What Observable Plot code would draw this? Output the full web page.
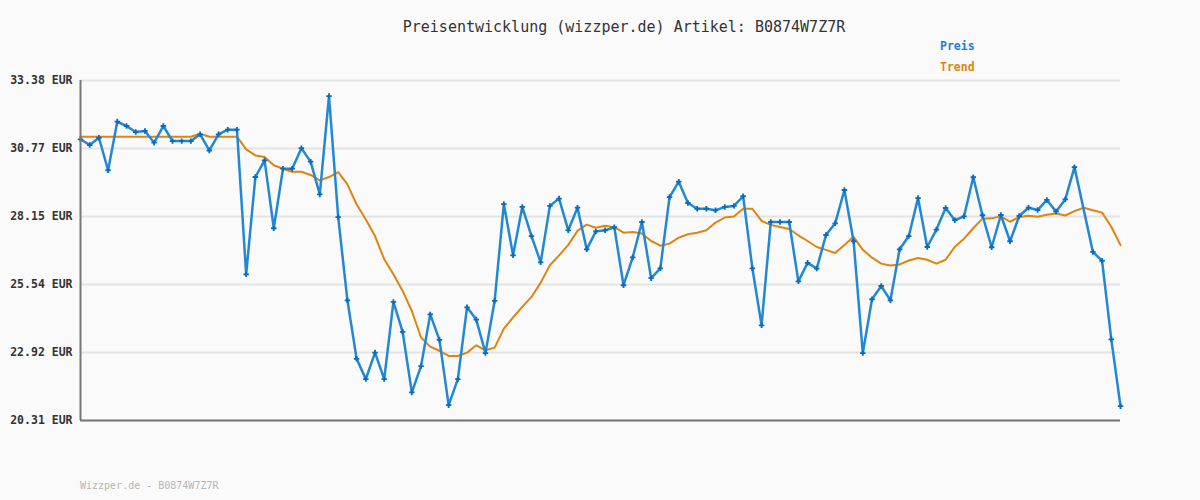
<!DOCTYPE html>
<html>
<head>
<meta charset="utf-8">
<script src="https://cdn.jsdelivr.net/npm/d3@7"></script>
<script src="https://cdn.jsdelivr.net/npm/@observablehq/plot@0.6"></script>
<style>
  html, body { margin: 0; padding: 0; background: #fafafa; }
  #wrap { position: relative; width: 1200px; height: 500px; background: #fafafa; font-family: "DejaVu Sans Mono", monospace; }
  #title { position: absolute; left: 0; width: 1248px; top: 18px; text-align: center; font-size: 15px; color: #333; }
  .leg { position: absolute; left: 940px; font-size: 11.5px; font-weight: bold; }
  #footer { position: absolute; left: 80px; top: 480px; font-size: 10px; color: #b5b5b5; }
  #chart { position: absolute; left: 0; top: 0; }
</style>
</head>
<body>
<div id="wrap">
  <div id="chart"></div>
  <div id="title">Preisentwicklung (wizzper.de) Artikel: B0874W7Z7R</div>
  <div class="leg" style="top:39px;color:#1a80d0">Preis</div>
  <div class="leg" style="top:60px;color:#e2830f">Trend</div>
  <div id="footer">Wizzper.de - B0874W7Z7R</div>
</div>
<script>
const price = [31.12,30.90,31.18,29.93,31.80,31.63,31.40,31.44,30.99,31.63,
  31.05,31.05,31.05,31.31,30.69,31.31,31.49,31.49,25.93,29.67,
  30.31,27.70,29.99,29.99,30.78,30.26,29.00,32.78,28.13,24.93,
  22.68,21.90,22.92,21.90,24.87,23.72,21.39,22.40,24.39,23.41,
  20.90,21.90,24.66,24.19,22.90,24.91,28.63,26.66,28.52,27.40,
  26.39,28.56,28.84,27.62,28.49,26.89,27.58,27.62,27.74,25.51,
  26.58,27.94,25.78,26.16,28.90,29.49,28.67,28.45,28.45,28.39,
  28.52,28.56,28.93,26.16,23.97,27.94,27.94,27.94,25.66,26.37,
  26.15,27.44,27.89,29.17,27.20,22.90,24.97,25.48,24.93,26.89,
  27.40,28.86,26.98,27.65,28.48,28.01,28.16,29.66,28.20,26.97,
  28.21,27.20,28.17,28.49,28.40,28.79,28.34,28.81,30.05,null,
  26.79,26.45,23.43,20.86];
const trend = [31.22,31.22,31.22,31.22,31.22,31.22,31.22,31.22,31.22,31.22,
  31.22,31.22,31.22,31.33,31.22,31.22,31.22,31.22,30.73,30.50,
  30.44,30.12,29.99,29.87,29.87,29.75,29.54,29.67,29.86,29.39,
  28.62,28.04,27.40,26.51,25.93,25.29,24.52,23.50,23.15,22.99,
  22.79,22.79,22.92,23.20,23.01,23.11,23.84,24.27,24.68,25.06,
  25.61,26.28,26.66,27.06,27.60,27.84,27.72,27.80,27.74,27.53,
  27.56,27.50,27.21,27.03,27.11,27.34,27.47,27.53,27.62,27.92,
  28.11,28.15,28.45,28.45,27.98,27.83,27.75,27.67,27.43,27.21,
  26.98,26.87,26.75,27.06,27.37,26.87,26.57,26.34,26.27,26.31,
  26.46,26.56,26.49,26.34,26.49,26.99,27.30,27.70,28.07,28.08,
  28.16,27.95,28.13,28.18,28.14,28.22,28.27,28.19,28.36,28.49,
  28.39,28.30,27.76,27.05];
const yTicks = [20.31, 22.92, 25.54, 28.15, 30.77, 33.38];
const tickSuffix = " EUR";

const priceData = price.map((v, i) => ({i: i + 1, v})).filter(d => d.v != null);
const trendData = trend.map((v, i) => ({i: i + 1, v}));

const chart = Plot.plot({
  width: 1200,
  height: 500,
  marginLeft: 80,
  marginRight: 80,
  marginTop: 80,
  marginBottom: 80,
  style: {background: "transparent", fontFamily: "DejaVu Sans Mono, monospace"},
  x: {domain: [1, price.length], axis: null},
  y: {domain: [yTicks[0], yTicks[yTicks.length - 1]], ticks: yTicks, tickSize: 0, tickPadding: 8,
      tickFormat: d => d.toFixed(2) + tickSuffix, label: null},
  marks: [
    Plot.ruleY(yTicks, {stroke: "#e3e3e3", strokeWidth: 2}),
    Plot.axisY({ticks: yTicks, tickSize: 0, tickPadding: 8, tickFormat: d => d.toFixed(2) + tickSuffix,
      label: null, fontSize: 11.5, fontWeight: "bold", fill: "#333"}),
    Plot.line(trendData, {x: "i", y: "v", stroke: "#e2830f", strokeWidth: 2}),
    Plot.line(priceData, {x: "i", y: "v", stroke: "#2288d6", strokeWidth: 2.5}),
    Plot.dot(priceData, {x: "i", y: "v", symbol: "cross", r: 2.3, fill: "#0a6cbf", stroke: "none"}),
    Plot.ruleY([yTicks[0]], {stroke: "#777", strokeWidth: 2}),
    Plot.ruleX([1], {stroke: "#777", strokeWidth: 2})
  ]
});
document.getElementById("chart").appendChild(chart);
</script>
</body>
</html>
